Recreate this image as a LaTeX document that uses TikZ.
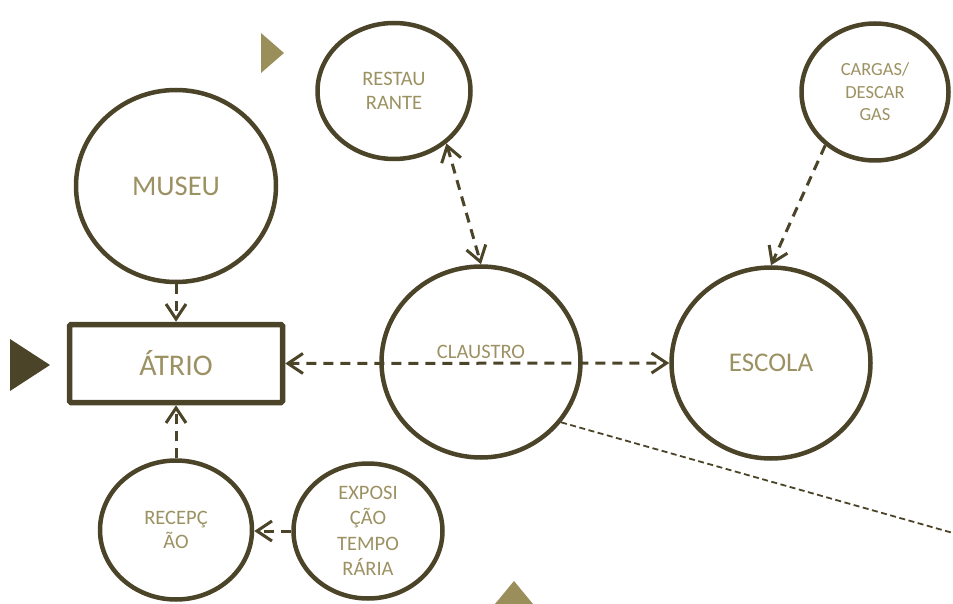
\documentclass[tikz,border=0pt]{standalone}
\usepackage{fontspec}
\setmainfont{Carlito}
\usetikzlibrary{shapes.geometric,arrows.meta}
\definecolor{olivedark}{HTML}{4B4429}
\definecolor{olivetext}{HTML}{9C9162}
\definecolor{olivetri}{HTML}{9A8F5B}
\begin{document}
\begin{tikzpicture}[x=1pt,y=-1pt,
  barb/.tip={Straight Barb[length=15pt,width=20pt]},
  room/.style={ellipse,draw=olivedark,line width=4.5pt,inner sep=0pt,
    align=center,text=olivetext},
  smalltext/.style={font=\fontsize{20.5}{24.5}\selectfont},
  link/.style={draw=olivedark,line width=3pt,dash pattern=on 10pt off 7pt},
  thinlink/.style={draw=olivedark,line width=1.8pt,dash pattern=on 6pt off 3.5pt}]
\useasboundingbox (0,0) rectangle (953,604);

% rooms
\node[room,minimum width=200pt,minimum height=192pt,
  font=\fontsize{28.5}{33}\selectfont] (museu) at (176,186) {MUSEU};
\node[draw=olivedark,line width=5.5pt,rounded corners=1.5pt,
  minimum width=213pt,minimum height=78pt,text=olivetext,
  font=\fontsize{30}{35}\selectfont] (atrio) at (176,363.5) {ÁTRIO};
\node[room,smalltext,minimum width=153pt,minimum height=136pt]
  (restaurante) at (394,91) {RESTAU\\RANTE};
\node[room,minimum width=199pt,minimum height=191pt,
  label={[text=olivetext,font=\fontsize{20.5}{24}\selectfont,yshift=10pt]center:CLAUSTRO}]
  (claustro) at (481,362) {};
\node[room,minimum width=199pt,minimum height=191pt,
  font=\fontsize{27}{31}\selectfont] (escola) at (771,363) {ESCOLA};
\node[room,minimum width=147pt,minimum height=137pt,
  font=\fontsize{18.5}{22.5}\selectfont] (cargas) at (875,92) {CARGAS/\\DESCAR\\GAS};
\node[room,smalltext,minimum width=152pt,minimum height=139pt]
  (recepcao) at (176,530) {RECEPÇ\\ÃO};
\node[room,minimum width=149pt,minimum height=135pt,
  font=\fontsize{20.5}{25.5}\selectfont] (exposicao) at (368,531) {EXPOSI\\ÇÃO\\TEMPO\\RÁRIA};

% connections
\draw[link,-barb] (museu.south) -- (atrio.north);
\draw[link,-barb] (recepcao.north) -- (atrio.south);
\draw[link,barb-barb] (atrio.east) -- (escola.west);
\draw[link,barb-barb] (restaurante.-45) -- (claustro.north);
\draw[link,-barb] (cargas.-133) -- (escola.north);
\draw[link,-barb] (exposicao.west) -- (exposicao.west -| recepcao.east);
\coordinate (offpage) at (953,533);
\draw[thinlink] (claustro.-37) -- (offpage);

% markers
\fill[olivedark] (10,339) -- (50,365) -- (10,391) -- cycle;
\fill[olivetri] (261,33) -- (284,53) -- (261,73) -- cycle;
\fill[olivetri] (514,581) -- (533,604) -- (495,604) -- cycle;
\end{tikzpicture}
\end{document}
